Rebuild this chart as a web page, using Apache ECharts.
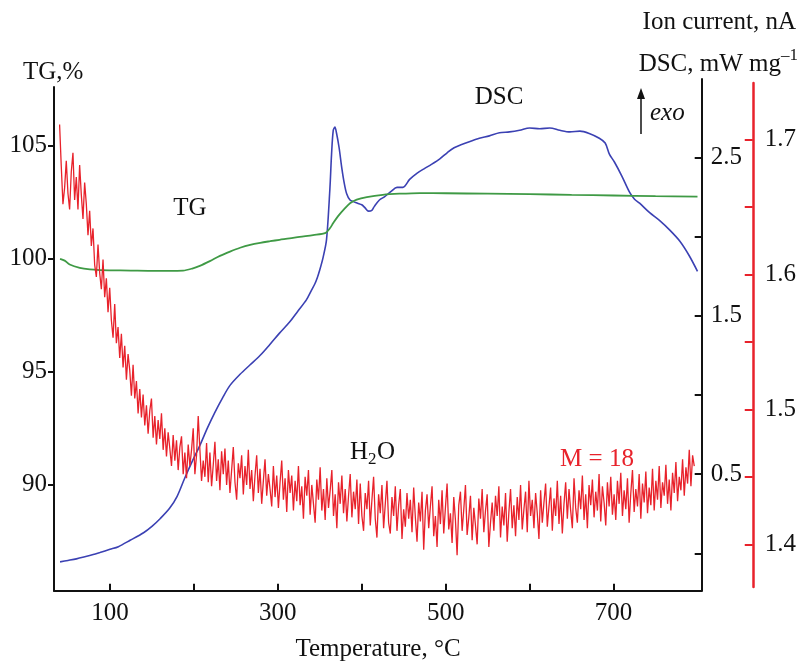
<!DOCTYPE html>
<html><head><meta charset="utf-8">
<script src="https://cdn.jsdelivr.net/npm/echarts@6/dist/echarts.min.js"></script>
<style>html,body{margin:0;padding:0;background:#fff}#c{width:799px;height:662px}</style>
</head><body><div id="c"></div>
<script>
// ---- data (temperature in °C) ----
const tgT = [40.5, 46, 52, 64, 76, 88, 100, 125, 148, 170, 187, 198, 207, 219, 231, 243, 255, 267, 279, 291, 302, 314, 326, 342, 357, 362, 366, 372, 379, 386, 394, 406, 425, 445, 469, 500, 550, 600, 650, 700, 750, 800];
const tgV = [100.0, 99.92, 99.75, 99.6, 99.53, 99.5, 99.49, 99.48, 99.47, 99.47, 99.48, 99.57, 99.69, 99.9, 100.13, 100.32, 100.49, 100.62, 100.71, 100.78, 100.84, 100.9, 100.97, 101.05, 101.15, 101.35, 101.58, 101.9, 102.2, 102.46, 102.62, 102.73, 102.83, 102.88, 102.91, 102.9, 102.88, 102.86, 102.83, 102.8, 102.77, 102.75];

const dscT = [40.5, 50, 60, 70, 80, 88, 100, 110, 124, 140, 150, 160, 171, 180, 189, 198, 207, 216, 225, 234, 243, 255, 267, 279, 290, 302, 314, 324, 334, 340, 344, 347, 350, 354, 358, 362, 364, 366, 368, 370, 373, 376, 379, 382, 386, 390, 395, 400, 404, 408, 412, 415, 421, 427, 435, 442, 449, 457, 466, 475, 483, 493, 502, 510, 519, 529, 540, 552, 564, 576, 588, 600, 612, 624, 636, 648, 660, 671, 683, 690, 695, 701, 710, 719, 725, 731, 743, 755, 767, 779, 790, 800];
const dscV = [-0.054, -0.045, -0.035, -0.022, -0.008, 0.005, 0.025, 0.042, 0.082, 0.13, 0.17, 0.22, 0.284, 0.36, 0.474, 0.58, 0.68, 0.79, 0.89, 0.98, 1.06, 1.13, 1.19, 1.25, 1.315, 1.39, 1.46, 1.53, 1.6, 1.66, 1.7, 1.74, 1.79, 1.87, 1.98, 2.3, 2.52, 2.67, 2.69, 2.65, 2.56, 2.44, 2.34, 2.27, 2.23, 2.22, 2.21, 2.2, 2.18, 2.16, 2.165, 2.19, 2.23, 2.25, 2.285, 2.31, 2.31, 2.36, 2.40, 2.43, 2.455, 2.49, 2.53, 2.56, 2.58, 2.60, 2.62, 2.635, 2.655, 2.66, 2.67, 2.685, 2.68, 2.685, 2.67, 2.66, 2.665, 2.65, 2.62, 2.59, 2.52, 2.47, 2.38, 2.28, 2.235, 2.21, 2.15, 2.10, 2.04, 1.97, 1.88, 1.78];

const ionT = [40,42,44,46,48,50,52,54,56,58,60,62,64,66,68,70,72,74,76,78,80,82,84,86,88,90,92,94,96,98,100,102,104,106,108,110,112,114,116,118,120,122,124,126,128,130,132,134,136,138,140,142,144,146,148,150,152,154,156,158,160,162,164,166,168,170,172,174,176,178,180,182,184,186,188,190,192,194,196,198,200,202,204,206,208,210,212,214,216,218,220,222,224,226,228,230,232,234,236,238,240,242,244,246,248,250,252,254,256,258,260,262,264,266,268,270,272,274,276,278,280,282,284,286,288,290,292,294,296,298,300,302,304,306,308,310,312,314,316,318,320,322,324,326,328,330,332,334,336,338,340,342,344,346,348,350,352,354,356,358,360,362,364,366,368,370,372,374,376,378,380,382,384,386,388,390,392,394,396,398,400,402,404,406,408,410,412,414,416,418,420,422,424,426,428,430,432,434,436,438,440,442,444,446,448,450,452,454,456,458,460,462,464,466,468,470,472,474,476,478,480,482,484,486,488,490,492,494,496,498,500,502,504,506,508,510,512,514,516,518,520,522,524,526,528,530,532,534,536,538,540,542,544,546,548,550,552,554,556,558,560,562,564,566,568,570,572,574,576,578,580,582,584,586,588,590,592,594,596,598,600,602,604,606,608,610,612,614,616,618,620,622,624,626,628,630,632,634,636,638,640,642,644,646,648,650,652,654,656,658,660,662,664,666,668,670,672,674,676,678,680,682,684,686,688,690,692,694,696,698,700,702,704,706,708,710,712,714,716,718,720,722,724,726,728,730,732,734,736,738,740,742,744,746,748,750,752,754,756,758,760,762,764,766,768,770,772,774,776,778,780,782,784,786,788,790,792,794,796,798,800];
const ionV = [
1.711,1.680,1.652,1.664,1.684,1.660,1.648,1.676,1.690,1.655,
1.672,1.648,1.681,1.659,1.641,1.668,1.652,1.629,1.647,1.621,
1.634,1.607,1.598,1.622,1.601,1.589,1.611,1.583,1.597,1.572,
1.590,1.566,1.553,1.578,1.549,1.561,1.538,1.556,1.531,1.547,
1.522,1.541,1.529,1.510,1.533,1.508,1.521,1.497,1.515,1.494,
1.511,1.488,1.503,1.482,1.499,1.508,1.479,1.495,1.474,1.492,
1.478,1.497,1.470,1.486,1.465,1.483,1.471,1.458,1.481,1.462,
1.477,1.455,1.472,1.480,1.452,1.468,1.449,1.474,1.458,1.470,
1.486,1.452,1.466,1.495,1.470,1.447,1.462,1.450,1.475,1.446,
1.468,1.443,1.459,1.476,1.447,1.463,1.440,1.469,1.452,1.471,
1.444,1.462,1.438,1.455,1.472,1.446,1.433,1.460,1.449,1.466,
1.437,1.458,1.444,1.470,1.441,1.455,1.432,1.451,1.466,1.438,
1.456,1.430,1.447,1.463,1.436,1.452,1.441,1.428,1.458,1.435,
1.451,1.427,1.446,1.462,1.433,1.449,1.424,1.455,1.438,1.451,
1.425,1.447,1.432,1.458,1.429,1.443,1.419,1.450,1.436,1.455,
1.422,1.444,1.430,1.416,1.448,1.433,1.457,1.425,1.441,1.418,
1.449,1.427,1.440,1.455,1.421,1.437,1.412,1.446,1.430,1.451,
1.423,1.441,1.417,1.436,1.452,1.420,1.439,1.426,1.448,1.415,
1.445,1.421,1.410,1.438,1.426,1.447,1.414,1.433,1.450,1.419,
1.405,1.437,1.423,1.444,1.412,1.430,1.447,1.416,1.408,1.435,
1.421,1.443,1.410,1.429,1.441,1.404,1.426,1.413,1.438,1.419,
1.433,1.409,1.442,1.420,1.402,1.431,1.417,1.439,1.396,1.425,
1.437,1.412,1.428,1.443,1.406,1.421,1.398,1.433,1.415,1.440,
1.408,1.427,1.445,1.411,1.423,1.401,1.435,1.418,1.392,1.429,
1.439,1.410,1.426,1.444,1.407,1.420,1.436,1.403,1.427,1.414,
1.400,1.434,1.419,1.441,1.409,1.425,1.437,1.398,1.416,1.431,
1.410,1.436,1.421,1.443,1.405,1.428,1.414,1.438,1.402,1.424,
1.441,1.412,1.429,1.406,1.435,1.418,1.444,1.411,1.426,1.439,
1.409,1.447,1.421,1.433,1.412,1.438,1.423,1.404,1.440,1.416,
1.431,1.445,1.413,1.428,1.442,1.410,1.434,1.421,1.447,1.415,
1.436,1.408,1.430,1.446,1.419,1.441,1.425,1.412,1.449,1.427,
1.416,1.440,1.426,1.451,1.418,1.437,1.412,1.444,1.429,1.448,
1.420,1.439,1.425,1.452,1.417,1.443,1.431,1.414,1.446,1.428,
1.450,1.422,1.437,1.418,1.447,1.430,1.453,1.421,1.440,1.426,
1.449,1.416,1.438,1.455,1.424,1.441,1.428,1.452,1.419,1.445,
1.431,1.454,1.423,1.442,1.429,1.456,1.425,1.447,1.433,1.458,
1.427,1.446,1.436,1.459,1.430,1.448,1.425,1.453,1.438,1.461,
1.432,1.450,1.440,1.463,1.436,1.457,1.445,1.470,1.443,1.466,
1.458];

const xTicks = [100, 200, 300, 400, 500, 600, 700];
const xLabels = [100, 300, 500, 700];
const tgTicks = [90, 95, 100, 105];
const dscTicks = [0, 0.5, 1, 1.5, 2, 2.5];
const dscLabels = [0.5, 1.5, 2.5];
const ionTicks = [1.40, 1.45, 1.50, 1.55, 1.60, 1.65, 1.70];
const ionLabels = [1.4, 1.5, 1.6, 1.7];

const zip = (a, b) => a.map((v, i) => [v, b[i]]);
const FONT = 'Liberation Serif';
const BLACK = '#111';
const RED = '#e8222b';

const chart = echarts.init(document.getElementById('c'), null, {renderer: 'canvas'});
const xBase = {type: 'value', min: 33.3, max: 805};
const option = {
  animation: false,
  backgroundColor: '#fff',
  textStyle: {fontFamily: FONT},
  grid: [
    {left: 54, right: 97.3, top: 87, bottom: 71.3},
    {left: 54, right: 97.3, top: 79, bottom: 71.3},
    {left: 54, right: 97.3, top: 83, bottom: 75}
  ],
  xAxis: [
    Object.assign({}, xBase, {gridIndex: 0,
      axisLine: {show: true, lineStyle: {color: BLACK, width: 2}},
      axisTick: {show: true, inside: true, length: 7, lineStyle: {color: BLACK, width: 2}, customValues: xTicks},
      axisLabel: {fontFamily: FONT, fontSize: 25, color: BLACK, margin: 10, customValues: xLabels},
      splitLine: {show: false}}),
    Object.assign({}, xBase, {gridIndex: 1, show: false}),
    Object.assign({}, xBase, {gridIndex: 2, show: false})
  ],
  yAxis: [
    {type: 'value', gridIndex: 0, min: 85.32, max: 107.6, position: 'left',
      axisLine: {show: true, lineStyle: {color: BLACK, width: 2}},
      axisTick: {show: true, inside: false, length: 6, lineStyle: {color: BLACK, width: 2}, customValues: tgTicks},
      axisLabel: {fontFamily: FONT, fontSize: 25, color: BLACK, margin: 7, customValues: tgTicks},
      splitLine: {show: false}},
    {type: 'value', gridIndex: 1, min: -0.236, max: 2.994, position: 'right',
      axisLine: {show: true, lineStyle: {color: BLACK, width: 2}},
      axisTick: {show: true, inside: true, length: 7, lineStyle: {color: BLACK, width: 2}, customValues: dscTicks},
      axisLabel: {fontFamily: FONT, fontSize: 25, color: BLACK, margin: 9, customValues: dscLabels, formatter: v => v.toFixed(1)},
      splitLine: {show: false}},
    {type: 'value', gridIndex: 2, min: 1.3684, max: 1.7417, position: 'right', offset: 54.3,
      axisLine: {show: true, lineStyle: {color: RED, width: 2.5}},
      axisTick: {show: true, inside: true, length: 8, lineStyle: {color: RED, width: 2}, customValues: ionTicks},
      axisLabel: {fontFamily: FONT, fontSize: 25, color: BLACK, margin: 12, customValues: ionLabels, formatter: v => v.toFixed(1)},
      splitLine: {show: false}}
  ],
  series: [
    {type: 'line', name: 'DSC', xAxisIndex: 1, yAxisIndex: 1, data: zip(dscT, dscV), showSymbol: false, smooth: 0.3,
      lineStyle: {color: '#3b41b3', width: 1.6}},
    {type: 'line', name: 'TG', xAxisIndex: 0, yAxisIndex: 0, data: zip(tgT, tgV), showSymbol: false, smooth: 0.3,
      lineStyle: {color: '#3f9a45', width: 1.8}},
    {type: 'line', name: 'H2O', xAxisIndex: 2, yAxisIndex: 2, data: zip(ionT, ionV), showSymbol: false,
      lineStyle: {color: RED, width: 1.3}}
  ],
  graphic: [
    {type: 'text', x: 23, y: 72, style: {text: 'TG,%', font: '25px "Liberation Serif"', fill: BLACK, textVerticalAlign: 'middle'}},
    {type: 'text', x: 796, y: 22, style: {text: 'Ion current, nA', font: '25px "Liberation Serif"', fill: BLACK, textAlign: 'right', textVerticalAlign: 'middle'}},
    {type: 'text', x: 781, y: 64, style: {text: 'DSC, mW mg', font: '25px "Liberation Serif"', fill: BLACK, textAlign: 'right', textVerticalAlign: 'middle'}},
    {type: 'text', x: 781, y: 56, style: {text: '–1', font: '17px "Liberation Serif"', fill: BLACK, textAlign: 'left', textVerticalAlign: 'middle'}},
    {type: 'line', shape: {x1: 641, y1: 134, x2: 641, y2: 96}, style: {stroke: BLACK, lineWidth: 1.5}},
    {type: 'polygon', shape: {points: [[641, 88], [637, 99], [645, 99]]}, style: {fill: BLACK}},
    {type: 'text', x: 650, y: 113, style: {text: 'exo', font: 'italic 25px "Liberation Serif"', fill: BLACK, textVerticalAlign: 'middle'}},
    {type: 'text', x: 499, y: 97, style: {text: 'DSC', font: '25px "Liberation Serif"', fill: BLACK, textAlign: 'center', textVerticalAlign: 'middle'}},
    {type: 'text', x: 190, y: 208, style: {text: 'TG', font: '25px "Liberation Serif"', fill: BLACK, textAlign: 'center', textVerticalAlign: 'middle'}},
    {type: 'text', x: 350, y: 452, style: {text: 'H', font: '25px "Liberation Serif"', fill: BLACK, textVerticalAlign: 'middle'}},
    {type: 'text', x: 368, y: 460, style: {text: '2', font: '17px "Liberation Serif"', fill: BLACK, textVerticalAlign: 'middle'}},
    {type: 'text', x: 377, y: 452, style: {text: 'O', font: '25px "Liberation Serif"', fill: BLACK, textVerticalAlign: 'middle'}},
    {type: 'text', x: 597, y: 459, style: {text: 'M = 18', font: '25px "Liberation Serif"', fill: RED, textAlign: 'center', textVerticalAlign: 'middle'}},
    {type: 'text', x: 378, y: 649, style: {text: 'Temperature, °C', font: '25px "Liberation Serif"', fill: BLACK, textAlign: 'center', textVerticalAlign: 'middle'}}
  ]
};
chart.setOption(option);
</script></body></html>
